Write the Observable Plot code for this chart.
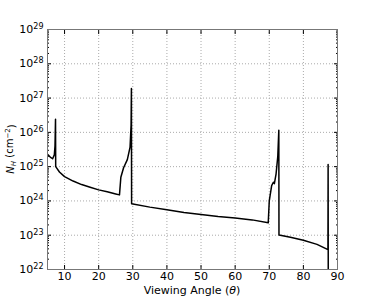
<!DOCTYPE html>
<html><head><meta charset="utf-8">
<script src="https://cdn.jsdelivr.net/npm/d3@7"></script>
<script src="https://cdn.jsdelivr.net/npm/@observablehq/plot@0.6"></script>
<style>body{margin:0;background:#fff}svg{font-family:"DejaVu Sans",sans-serif}</style>
</head><body><div id="chart"></div>
<script>
const angle = [5.0, 5.8, 6.5, 7.0, 7.2, 7.35, 7.4, 8.5, 10, 12.5, 15, 17.5, 20, 22.5, 25, 26.1,
  26.5, 27.3, 28.4, 29.2, 29.5, 29.6, 29.65, 35, 40, 45, 50, 55, 60, 65, 69.7,
  70.0, 70.7, 71.2, 71.5, 72.0, 72.5, 72.8, 72.85, 76.2, 80, 84, 87.2, 87.25, 87.3];
const nh = [2.3e25, 1.9e25, 1.7e25, 2.2e25, 4e25, 2.4e26, 1.0e25, 7e24, 5.1e24, 3.8e24, 3.0e24, 2.5e24, 2.1e24, 1.85e24, 1.6e24, 1.5e24,
  4.9e24, 9.3e24, 1.6e25, 3.7e25, 1.6e26, 1.9e27, 8.3e23, 6.6e23, 5.5e23, 4.6e23, 4.0e23, 3.5e23, 3.2e23, 2.8e23, 2.3e23,
  1e24, 2.8e24, 3.5e24, 3.2e24, 6.2e24, 2e25, 1.15e26, 1.02e23, 8.7e22, 7.1e22, 5.4e22, 3.8e22, 1.15e25, 1e21];
const xTicks = [10, 20, 30, 40, 50, 60, 70, 80, 90];
const yTicks = [1e22, 1e23, 1e24, 1e25, 1e26, 1e27, 1e28, 1e29];
const yTickLabels = ["10^22", "10^23", "10^24", "10^25", "10^26", "10^27", "10^28", "10^29"];

const data = angle.map((a, i) => ({angle: a, nh: nh[i]}));
const minor = [];
for (let k = 22; k < 29; k++) for (let m = 2; m <= 9; m++) minor.push(m * Math.pow(10, k));
const blank = () => "";

const chart = Plot.plot({
  width: 374, height: 299,
  marginLeft: 47, marginRight: 37, marginTop: 29, marginBottom: 30,
  style: {fontFamily: "DejaVu Sans, sans-serif", fontSize: "11px", background: "#fff"},
  x: {domain: [5, 90]},
  y: {type: "log", domain: [1e22, 1e29]},
  marks: [
    Plot.gridX(xTicks, {stroke: "#aaa", strokeOpacity: 1, strokeDasharray: "1,2"}),
    Plot.gridY(yTicks, {stroke: "#aaa", strokeOpacity: 1, strokeDasharray: "1,2"}),
    Plot.axisX(xTicks, {anchor: "bottom", tickSize: -4, tickPadding: 7, label: null, fontSize: 11, tickFormat: d => String(d)}),
    Plot.axisX(xTicks, {anchor: "top", tickSize: -4, tickFormat: blank, label: null}),
    Plot.axisY(yTicks, {anchor: "left", tickSize: -4, tickPadding: 8, label: null, fontSize: 11,
      tickFormat: d => yTickLabels[yTicks.indexOf(d)]}),
    Plot.axisY(yTicks, {anchor: "right", tickSize: -4, tickFormat: blank, label: null}),
    Plot.axisY(minor, {anchor: "left", tickSize: -2, tickFormat: blank, label: null}),
    Plot.axisY(minor, {anchor: "right", tickSize: -2, tickFormat: blank, label: null}),
    Plot.line(data, {x: "angle", y: "nh", stroke: "black", strokeWidth: 1.5, clip: true}),
    Plot.frame({stroke: "#777", strokeWidth: 1})
  ]
});

d3.select(chart).selectAll("text").each(function() {
  const t = this.textContent;
  if (t && t.includes("^")) {
    const [b, e] = t.split("^");
    const s = d3.select(this);
    s.text(null);
    s.append("tspan").text(b);
    s.append("tspan").attr("dy", "-0.5em").attr("font-size", "8px").text(e);
  }
});

const svg = d3.select(chart);
const xl = svg.append("text").attr("x", 192).attr("y", 294).attr("text-anchor", "middle")
  .attr("font-size", "11px").attr("fill", "black");
xl.append("tspan").text("Viewing Angle (");
xl.append("tspan").attr("font-style", "italic").text("θ");
xl.append("tspan").text(")");
const yl = svg.append("text").attr("transform", "translate(14,149) rotate(-90)").attr("text-anchor", "middle")
  .attr("font-size", "10px").attr("fill", "black");
yl.append("tspan").attr("font-style", "italic").text("N");
yl.append("tspan").attr("font-style", "italic").attr("font-size", "7px").attr("dy", "0.3em").text("H");
yl.append("tspan").attr("dy", "-0.3em").text(" (cm");
yl.append("tspan").attr("font-size", "7px").attr("dy", "-0.5em").text("−2");
yl.append("tspan").attr("dy", "0.5em").text(")");

document.getElementById("chart").appendChild(chart);
</script>
</body></html>
